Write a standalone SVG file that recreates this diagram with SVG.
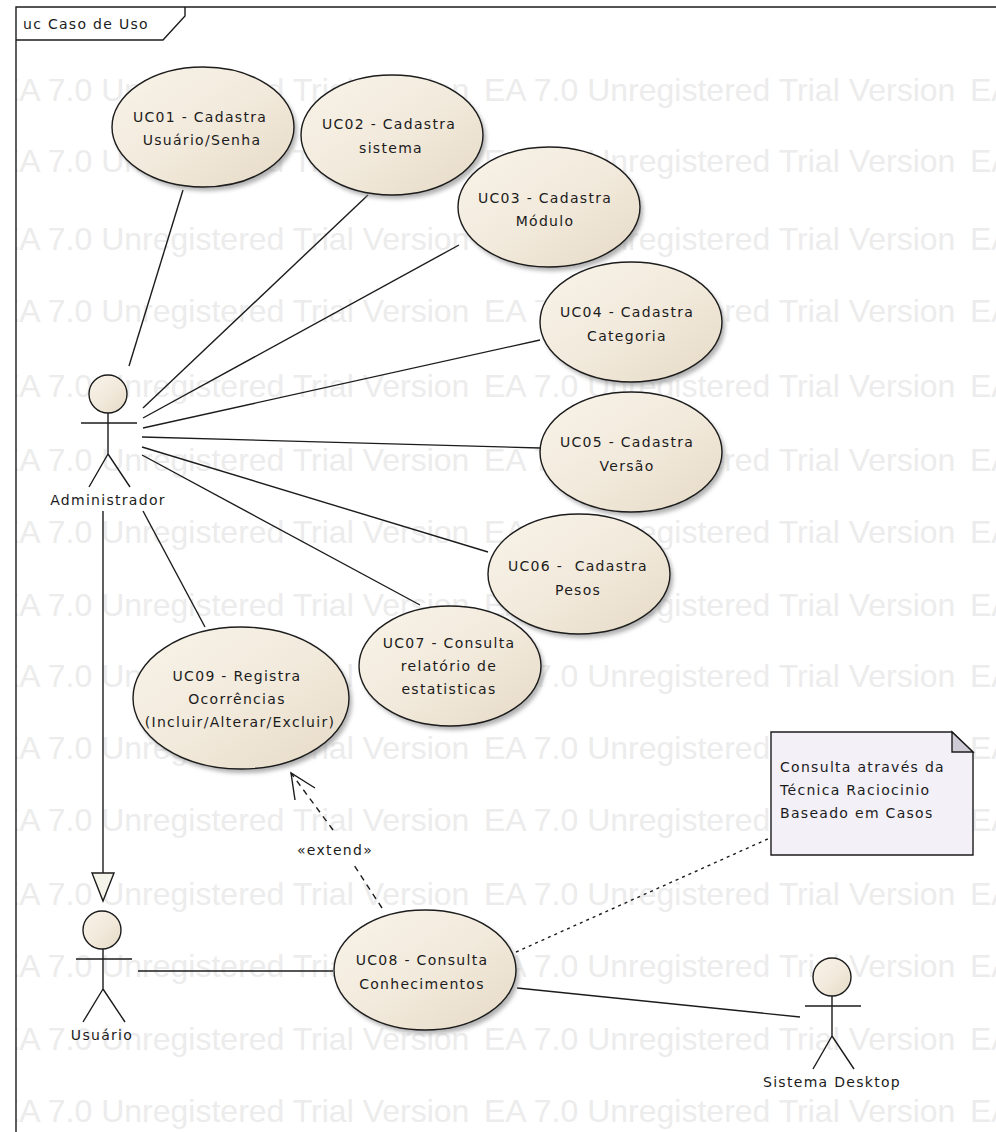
<svg xmlns="http://www.w3.org/2000/svg" xmlns:xlink="http://www.w3.org/1999/xlink" width="996" height="1132" viewBox="0 0 996 1132">
<style>
.wm{font-family:"Liberation Sans",Arial,sans-serif;font-size:32px;fill:#ececec}
.t{font-family:"DejaVu Sans",sans-serif;font-size:14px;fill:#1c1c1c;text-anchor:middle;letter-spacing:1.3px}
.l{font-family:"DejaVu Sans",sans-serif;font-size:14px;fill:#1c1c1c;letter-spacing:1.3px}
.uc{fill:url(#g);stroke:#1c1c1c;stroke-width:1.4}
.sh{fill:#8f8f8f;opacity:.7;filter:url(#b)}
.ln{fill:none;stroke:#1c1c1c;stroke-width:1.4}
.head{fill:url(#g);stroke:#1c1c1c;stroke-width:1.4}
</style>
<defs>
<linearGradient id="g" x1="0" y1="0" x2="1" y2="1"><stop offset="0" stop-color="#f8f3e9"/><stop offset=".5" stop-color="#f2eadc"/><stop offset="1" stop-color="#e6dac6"/></linearGradient>
<filter id="b" x="-10%" y="-10%" width="120%" height="120%"><feGaussianBlur stdDeviation="2"/></filter>
<clipPath id="c"><rect x="16" y="40" width="980" height="1092"/></clipPath>
<text id="row" class="wm"><tspan x="-2">EA 7.0 Unregistered Trial Version</tspan><tspan x="484">EA 7.0 Unregistered Trial Version</tspan><tspan x="970">EA</tspan></text>
</defs>
<rect width="996" height="1132" fill="#fff"/>
<g clip-path="url(#c)">
<use xlink:href="#row" href="#row" y="101"/>
<use xlink:href="#row" href="#row" y="172"/>
<use xlink:href="#row" href="#row" y="250"/>
<use xlink:href="#row" href="#row" y="322"/>
<use xlink:href="#row" href="#row" y="397"/>
<use xlink:href="#row" href="#row" y="471"/>
<use xlink:href="#row" href="#row" y="543"/>
<use xlink:href="#row" href="#row" y="616"/>
<use xlink:href="#row" href="#row" y="687"/>
<use xlink:href="#row" href="#row" y="759"/>
<use xlink:href="#row" href="#row" y="831"/>
<use xlink:href="#row" href="#row" y="905"/>
<use xlink:href="#row" href="#row" y="977"/>
<use xlink:href="#row" href="#row" y="1050"/>
<use xlink:href="#row" href="#row" y="1122"/>
</g>
<g id="frame">
<path class="ln" d="M16 1132V7H996"/>
<path class="ln" fill="#fff" d="M16 40H163L185 16V7"/>
<text class="l" x="23" y="29">uc Caso de Uso</text>
</g>
<g id="connectors">
<path class="ln" d="M183 190L129 366"/>
<path class="ln" d="M368 195L143 408"/>
<path class="ln" d="M459 245L143 418"/>
<path class="ln" d="M540 340L143 428"/>
<path class="ln" d="M540 448L142 437"/>
<path class="ln" d="M488 552L142 447"/>
<path class="ln" d="M420 605L142 455"/>
<path class="ln" d="M143 511L205 627"/>
<path class="ln" d="M103 511V873"/>
<path d="M92 873H114L103 901Z" fill="#f4f4ea" stroke="#1c1c1c" stroke-width="1.4"/>
<path class="ln" d="M138 971H333"/>
<path class="ln" d="M517 988L800 1017"/>
<path class="ln" stroke-dasharray="6 5" d="M382 908L352 862M333 830L291 773"/>
<path class="ln" d="M295 800L291 773L315 788"/>
<path class="ln" stroke-dasharray="3 4" d="M516 952L770 838"/>
<text class="t" x="335" y="855">«extend»</text>
</g>
<g id="uc01"><ellipse class="sh" cx="206" cy="131" rx="91" ry="60"/><ellipse class="uc" cx="203" cy="127" rx="91" ry="60"/><text class="t" x="200" y="122">UC01 - Cadastra</text><text class="t" x="202" y="145">Usuário/Senha</text></g>
<g id="uc02"><ellipse class="sh" cx="395" cy="139" rx="91" ry="60"/><ellipse class="uc" cx="392" cy="135" rx="91" ry="60"/><text class="t" x="389" y="129">UC02 - Cadastra</text><text class="t" x="391" y="153">sistema</text></g>
<g id="uc03"><ellipse class="sh" cx="552" cy="211" rx="91" ry="60"/><ellipse class="uc" cx="549" cy="207" rx="91" ry="60"/><text class="t" x="545" y="203">UC03 - Cadastra</text><text class="t" x="545" y="226">Módulo</text></g>
<g id="uc04"><ellipse class="sh" cx="634" cy="326" rx="91" ry="60"/><ellipse class="uc" cx="631" cy="322" rx="91" ry="60"/><text class="t" x="627" y="317">UC04 - Cadastra</text><text class="t" x="627" y="341">Categoria</text></g>
<g id="uc05"><ellipse class="sh" cx="634" cy="456" rx="91" ry="60"/><ellipse class="uc" cx="631" cy="452" rx="91" ry="60"/><text class="t" x="627" y="447">UC05 - Cadastra</text><text class="t" x="627" y="471">Versão</text></g>
<g id="uc06"><ellipse class="sh" cx="582" cy="578" rx="91" ry="60"/><ellipse class="uc" cx="579" cy="574" rx="91" ry="60"/><text class="t" x="578" y="571" xml:space="preserve">UC06 -  Cadastra</text><text class="t" x="578" y="595">Pesos</text></g>
<g id="uc07"><ellipse class="sh" cx="453" cy="670" rx="91" ry="60"/><ellipse class="uc" cx="450" cy="666" rx="91" ry="60"/><text class="t" x="449" y="648">UC07 - Consulta</text><text class="t" x="449" y="671">relatório de</text><text class="t" x="449" y="694">estatisticas</text></g>
<g id="uc09"><ellipse class="sh" cx="244" cy="702" rx="108" ry="71"/><ellipse class="uc" cx="241" cy="698" rx="108" ry="71"/><text class="t" x="237" y="681">UC09 - Registra</text><text class="t" x="237" y="704">Ocorrências</text><text class="t" x="240" y="727">(Incluir/Alterar/Excluir)</text></g>
<g id="uc08"><ellipse class="sh" cx="428" cy="974" rx="91" ry="60"/><ellipse class="uc" cx="425" cy="970" rx="91" ry="60"/><text class="t" x="422" y="965">UC08 - Consulta</text><text class="t" x="422" y="989">Conhecimentos</text></g>
<g id="administrador"><circle class="head" cx="108" cy="394" r="19"/><path class="ln" d="M81 423H137M108 413V454M108 454L89 487M108 454L130 487"/><text class="t" x="108" y="505">Administrador</text></g>
<g id="usuario"><circle class="head" cx="102" cy="930" r="19"/><path class="ln" d="M76 959H132M103 949V989M103 989L83 1022M103 989L125 1022"/><text class="t" x="102" y="1040">Usuário</text></g>
<g id="sistema-desktop"><circle class="head" cx="832" cy="977" r="19"/><path class="ln" d="M805 1006H861M832 996V1036M832 1036L813 1069M832 1036L854 1069"/><text class="t" x="832" y="1087">Sistema Desktop</text></g>
<g id="nota">
<path d="M771 732H952L973 752V855H771Z" fill="#f3f0f8" stroke="#1c1c1c" stroke-width="1.4"/>
<path d="M952 732V752H973Z" fill="#cfcbd6" stroke="#1c1c1c" stroke-width="1.4"/>
<text class="l" x="780" y="772">Consulta através da</text><text class="l" x="780" y="795">Técnica Raciocinio</text><text class="l" x="780" y="818">Baseado em Casos</text>
</g>
</svg>
